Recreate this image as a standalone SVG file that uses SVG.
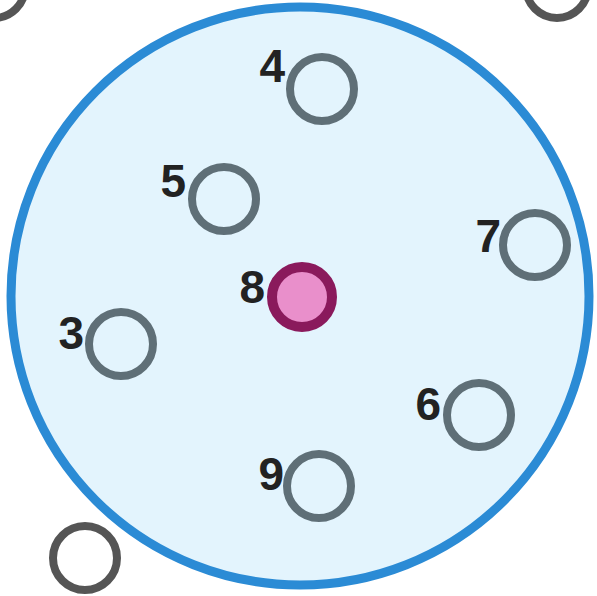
<svg xmlns="http://www.w3.org/2000/svg" width="597" height="596" viewBox="0 0 597 596">
<style>
.grp{fill:#e3f4fd;stroke:#2b8bd5;stroke-width:9}
.n{fill:none;stroke:#5f6f77;stroke-width:8}
.o{fill:#ffffff;stroke:#555555;stroke-width:8}
.hl{fill:#e98fcb;stroke:#8a1a5c;stroke-width:10}
.lbl{font-family:"Liberation Sans",Arial,sans-serif;font-weight:bold;font-size:46px;fill:#222222;text-anchor:end}
</style>
<rect width="597" height="596" fill="#ffffff"/>
<g id="outer-1"><circle class="o" cx="-6" cy="-13" r="31"/></g>
<g id="outer-2"><circle class="o" cx="557" cy="-13" r="31"/></g>
<g id="outer-3"><circle class="o" cx="85" cy="558" r="32"/></g>
<g id="group"><circle class="grp" cx="300" cy="296" r="289"/></g>
<g id="connectors"></g>
<g id="node-4"><circle class="n" cx="322" cy="89" r="32"/><text class="lbl" x="285" y="82">4</text></g>
<g id="node-5"><circle class="n" cx="224" cy="199" r="32"/><text class="lbl" x="186" y="197">5</text></g>
<g id="node-7"><circle class="n" cx="535" cy="245" r="32"/><text class="lbl" x="501" y="252">7</text></g>
<g id="node-8"><circle class="hl" cx="302" cy="297" r="30"/><text class="lbl" x="265" y="303">8</text></g>
<g id="node-3"><circle class="n" cx="121" cy="344" r="32"/><text class="lbl" x="84" y="349">3</text></g>
<g id="node-6"><circle class="n" cx="479" cy="415" r="32"/><text class="lbl" x="441" y="420">6</text></g>
<g id="node-9"><circle class="n" cx="319" cy="486" r="32"/><text class="lbl" x="284" y="490">9</text></g>
</svg>
